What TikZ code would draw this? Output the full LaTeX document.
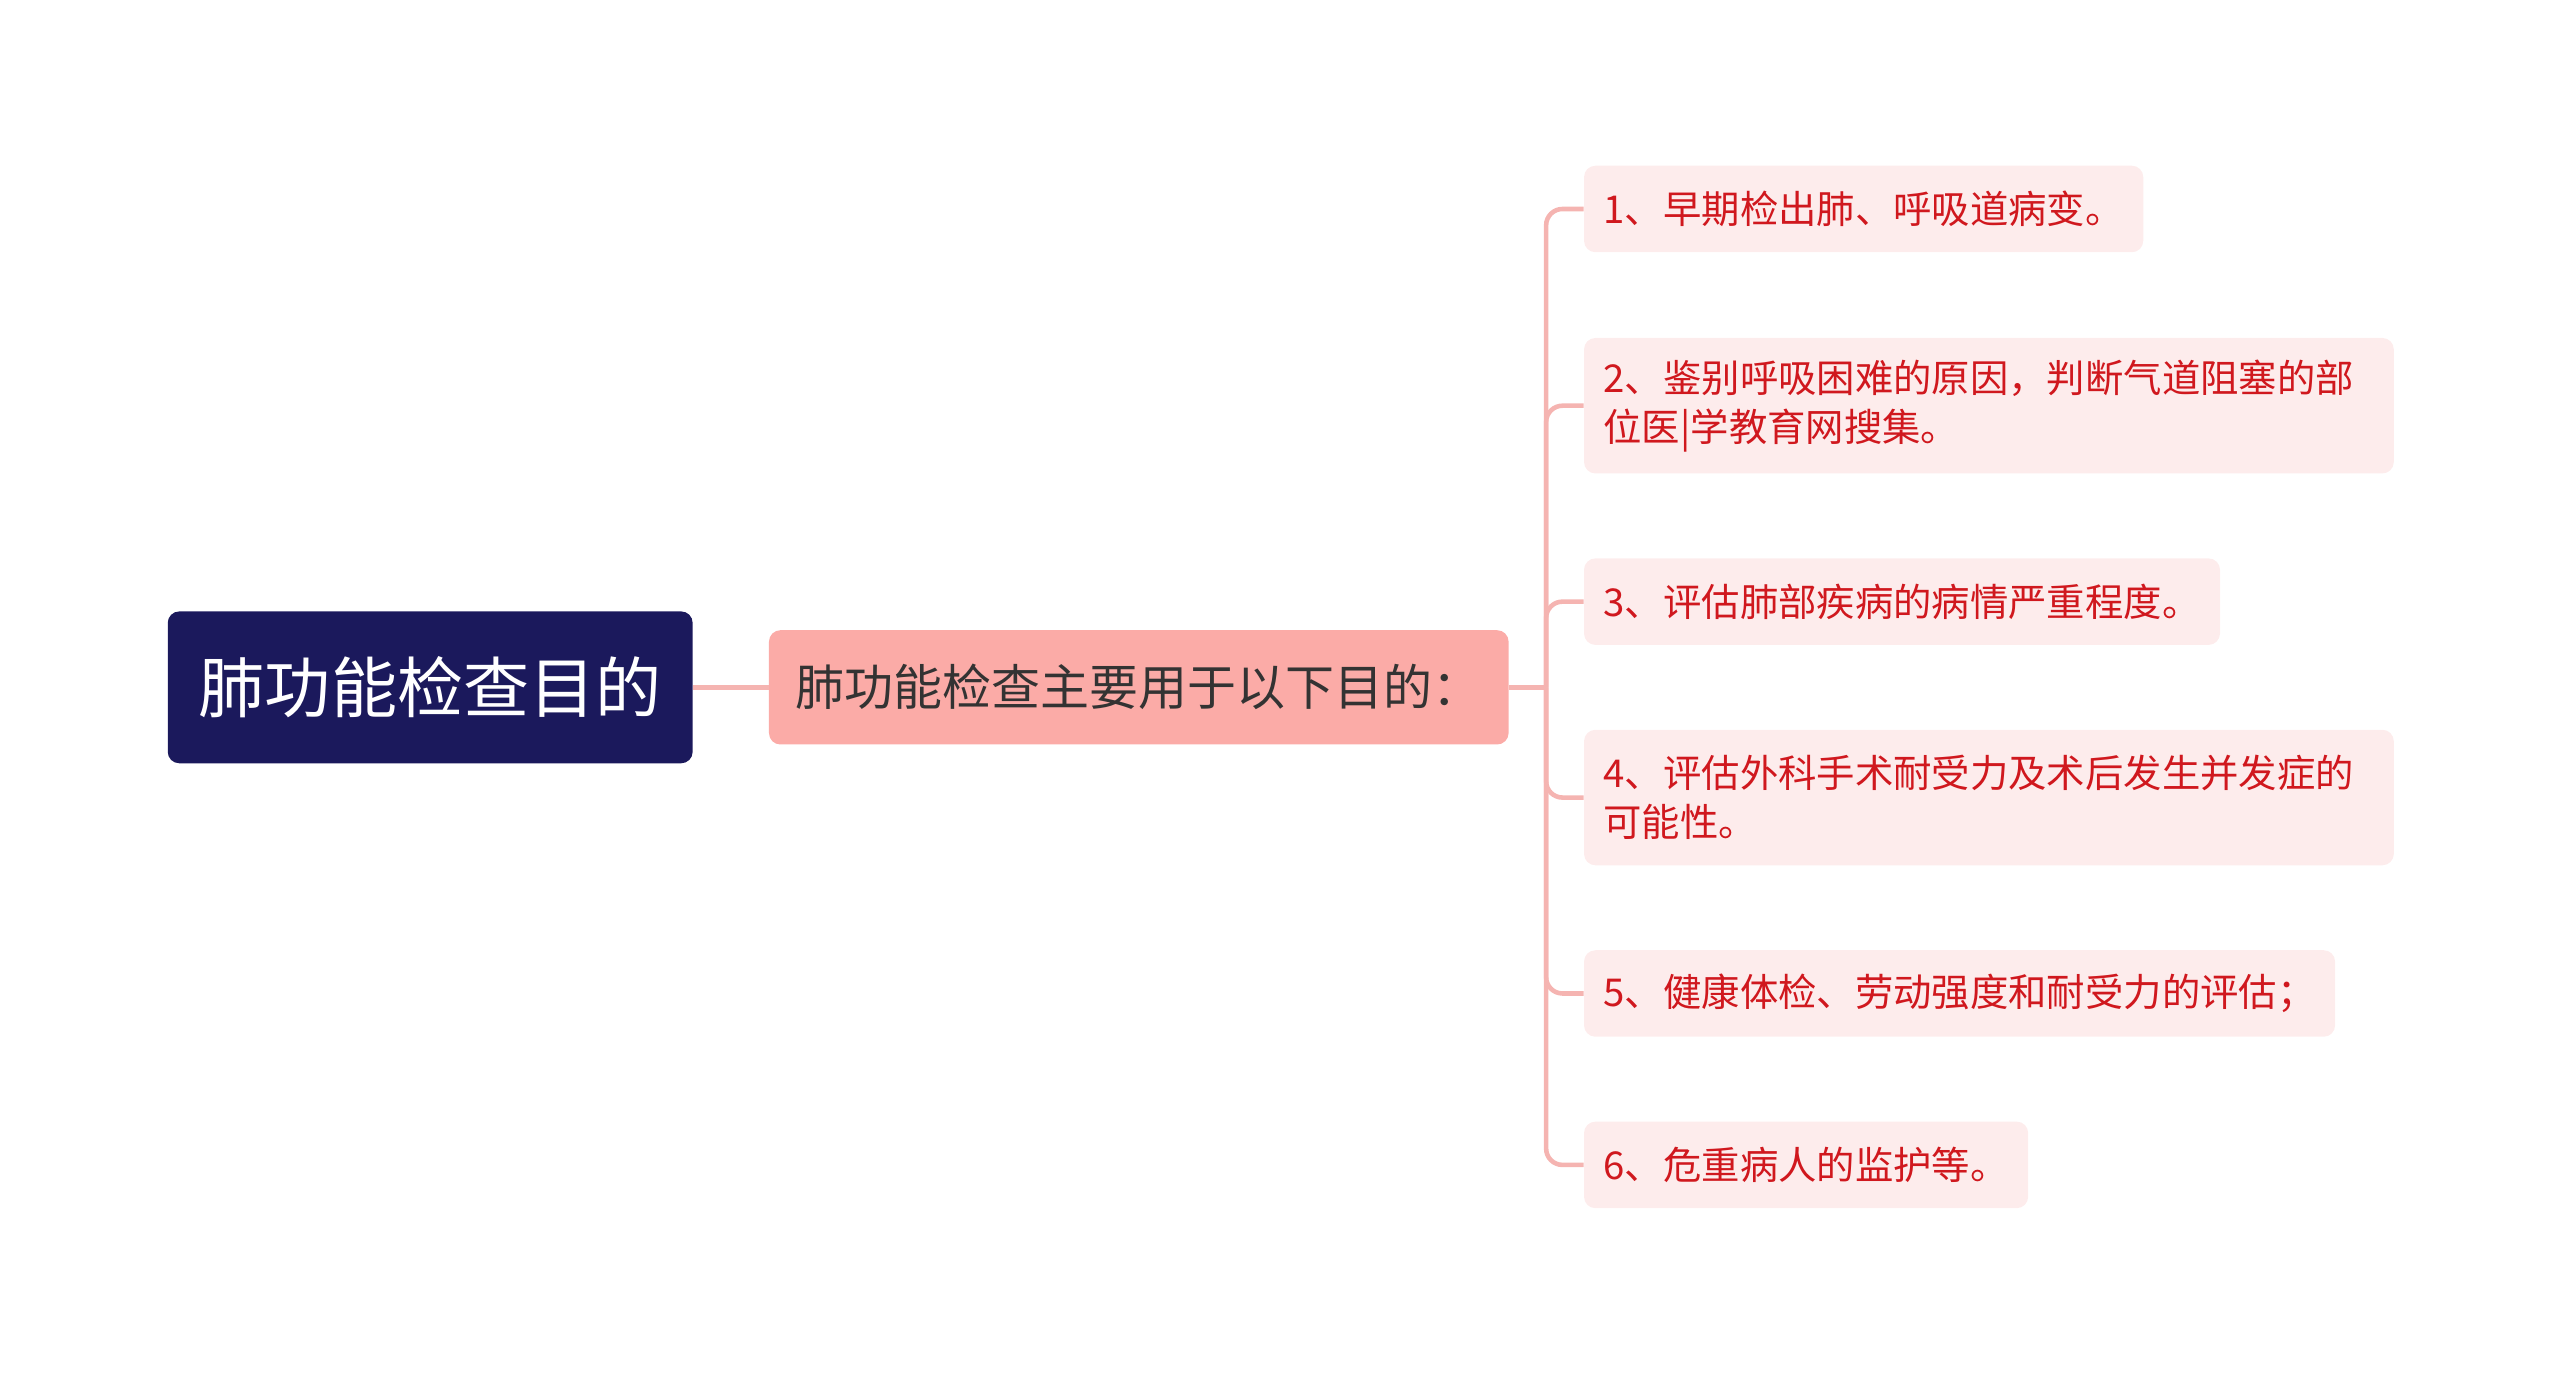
\documentclass[tikz,border=0pt]{standalone}
\usepackage{fontspec}
\setmainfont{Noto Sans CJK SC}
\usetikzlibrary{calc}
\definecolor{rootblue}{HTML}{1B195C}
\definecolor{midpink}{HTML}{FBABA7}
\definecolor{leafpink}{HTML}{FDECEC}
\definecolor{leafred}{HTML}{D0181E}
\definecolor{linkpink}{HTML}{F5B4B1}
\tikzset{rootbox/.style={fill=rootblue, text=white, rounded corners=7pt, inner xsep=19pt, minimum height=93pt, font=\fontsize{40.5}{44}\selectfont}}
\tikzset{midbox/.style={fill=midpink, text=black!80, rounded corners=7pt, inner xsep=16.5pt, minimum height=70pt, font=\fontsize{30}{34}\selectfont}}
\tikzset{leafbox/.style={fill=leafpink, text=leafred, rounded corners=7pt, inner xsep=12pt, inner ysep=0pt, anchor=west, align=left, font=\fontsize{23.5}{30}\selectfont}}
\tikzset{
branch/.style={draw=linkpink, line width=2.8pt, rounded corners=10pt}
}

\begin{document}
\begin{tikzpicture}[x=1pt, y=-1pt]
    \useasboundingbox (0,0) rectangle (1568,842);
    \node[rootbox] (root) at (263.5,421) {肺功能检查目的};
    \node[midbox] (mid) at (697.5,421) {肺功能检查主要用于以下目的：};
    \coordinate (fork) at (947,421);
    \node[leafbox, minimum height=53pt] (p1) at (970,128) {1、早期检出肺、呼吸道病变。};
    \node[leafbox, minimum height=83pt, text width=472pt] (p2) at (970,248.5) {2、鉴别呼吸困难的原因，判断气道阻塞的部\\位医|学教育网搜集。};
    \node[leafbox, minimum height=53pt] (p3) at (970,368.5) {3、评估肺部疾病的病情严重程度。};
    \node[leafbox, minimum height=83pt, text width=472pt] (p4) at (970,488.5) {4、评估外科手术耐受力及术后发生并发症的\\可能性。};
    \node[leafbox, minimum height=53pt] (p5) at (970,608.5) {5、健康体检、劳动强度和耐受力的评估；};
    \node[leafbox, minimum height=53pt] (p6) at (970,713.5) {6、危重病人的监护等。};
    \draw[branch] (root.east) -- (mid.west);
    \draw[branch] (mid.east) -- (fork);
    \foreach \p in {p1,p2,p3,p4,p5,p6}
      \draw[branch] (fork) |- (\p.west);
  \end{tikzpicture}
\end{document}
